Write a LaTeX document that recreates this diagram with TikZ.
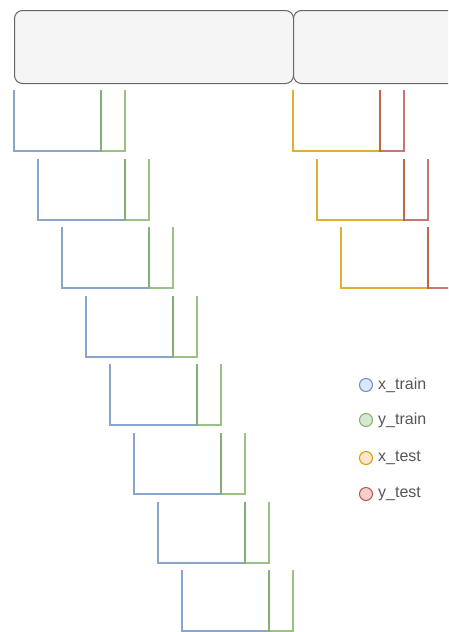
\documentclass[tikz,border=0pt]{standalone}
\usepackage{fontspec}
\setmainfont{Liberation Sans}
\usepackage{tikz}
\usetikzlibrary{positioning}
\definecolor{boxfill}{HTML}{F5F5F5}
\definecolor{boxline}{HTML}{666666}
\definecolor{xtrainline}{HTML}{6C8EBF}
\definecolor{ytrainline}{HTML}{82B366}
\definecolor{xtestline}{HTML}{D79B00}
\definecolor{ytestline}{HTML}{B85450}
\definecolor{xtrainfill}{HTML}{DAE8FC}
\definecolor{ytrainfill}{HTML}{D5E8D4}
\definecolor{xtestfill}{HTML}{FFE6CC}
\definecolor{ytestfill}{HTML}{F8CECC}
\definecolor{legendgray}{HTML}{555555}
\tikzstyle{panel} = [rectangle, rounded corners=8pt, draw=boxline, fill=boxfill, line width=1pt, minimum height=73pt, inner sep=0pt, anchor=north west]
\tikzstyle{split} = [line width=1.6pt, draw opacity=0.8]
\tikzstyle{dot} = [circle, minimum size=13pt, inner sep=0pt, line width=1pt]
\tikzstyle{legendtext} = [font=\fontsize{16}{18}\selectfont, text=legendgray, inner sep=0pt]

\begin{document}
\begin{tikzpicture}[x=1pt,y=-1pt]
\useasboundingbox (0,0) rectangle (448,632);
\clip (0,0) rectangle (448,632);

% top panels
\node[panel, minimum width=279pt] (trainpanel) at (14,10) {};
\node[panel, minimum width=170pt] (testpanel) at (293,10) {};

% training folds
\foreach \i in {0,...,7} {
  \coordinate (train\i) at ({14+24*\i},{round(90+68.6*\i)});
  \draw[split, xtrainline] (train\i) -- ++(0,61) -- ++(87,0) -- ++(0,-61);
  \draw[split, ytrainline] ([xshift=87pt]train\i) -- ++(0,61) -- ++(24,0) -- ++(0,-61);
}

% test folds
\foreach \i in {0,...,2} {
  \coordinate (test\i) at ({293+24*\i},{round(90+68.6*\i)});
  \draw[split, xtestline] (test\i) -- ++(0,61) -- ++(87,0) -- ++(0,-61);
  \draw[split, ytestline] ([xshift=87pt]test\i) -- ++(0,61) -- ++(24,0) -- ++(0,-61);
}

% legend
\node[dot, draw=xtrainline, fill=xtrainfill] (xtraindot) at (366,385) {};
\node[dot, draw=ytrainline, fill=ytrainfill] (ytraindot) at (366,420) {};
\node[dot, draw=xtestline, fill=xtestfill] (xtestdot) at (366,458) {};
\node[dot, draw=ytestline, fill=ytestfill] (ytestdot) at (366,494) {};
\node[legendtext, right=5pt of xtraindot] (xtrainlabel) {x\_train};
\node[legendtext, right=5pt of ytraindot] (ytrainlabel) {y\_train};
\node[legendtext, right=5pt of xtestdot] (xtestlabel) {x\_test};
\node[legendtext, right=5pt of ytestdot] (ytestlabel) {y\_test};
\end{tikzpicture}
\end{document}
